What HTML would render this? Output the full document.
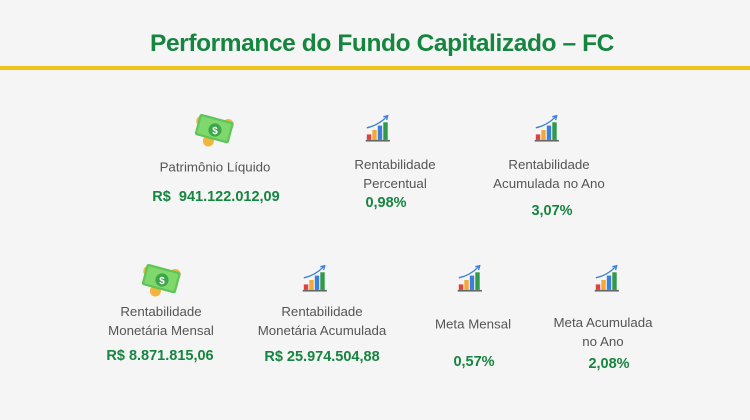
<!DOCTYPE html>
<html><head><meta charset="utf-8"><style>
body{margin:0;width:750px;height:420px;background:#f5f5f5;font-family:"Liberation Sans",sans-serif;position:relative;overflow:hidden}
.t{position:absolute;white-space:nowrap;transform:translate(-50%,-50%);font-size:13.3px;color:#555;text-align:center;line-height:19px}
.v{position:absolute;white-space:nowrap;transform:translate(-50%,-50%);font-size:14.5px;font-weight:bold;color:#15853f}
.i{position:absolute;transform:translate(-50%,-50%)}
</style></head><body>
<div class="t" style="left:382px;top:44px;font-size:24.5px;font-weight:bold;color:#15853f;letter-spacing:-0.4px;line-height:28px">Performance do Fundo Capitalizado – FC</div>
<div style="position:absolute;left:0;top:66px;width:750px;height:4px;background:#f2c318"></div>

<svg width="0" height="0" style="position:absolute"><defs>
<g id="m"><circle cx="-12" cy="-8" r="5" fill="#f0b63c"/><circle cx="-6" cy="10" r="5" fill="#f0b63c"/><circle cx="12" cy="-5" r="5" fill="#f0b63c"/>
<rect x="-17" y="-11" width="32" height="20" rx="2" fill="#5fc45a" transform="rotate(15)"/><rect x="-15" y="-9" width="28" height="16" rx="1" fill="#7fd86c" transform="rotate(15)"/><circle cx="0" cy="0" r="6" fill="#3ea64a"/><text x="0" y="3.5" font-size="9" font-weight="bold" fill="#fff" text-anchor="middle" font-family="Liberation Sans">$</text></g>
<g id="c"><rect x="-12" y="4" width="4" height="5" fill="#e04040"/><rect x="-7" y="0" width="4" height="9" fill="#f2a93b"/><rect x="-2" y="-4" width="4" height="13" fill="#3b7fd9"/><rect x="3" y="-7" width="4" height="16" fill="#2e9a4a"/><rect x="-13" y="9" width="22" height="1.5" fill="#666"/><path d="M-12,-2 Q-2,-4 6,-12" stroke="#3b7fd9" fill="none" stroke-width="1.2"/><path d="M3,-12 L7,-13 L6,-9" stroke="#3b7fd9" fill="none" stroke-width="1.2"/></g>
</defs></svg>

<svg class="i" style="left:215px;top:130px" width="44" height="40" viewBox="-20 -18 40 36"><use href="#m"/></svg>
<div class="t" style="left:215px;top:167px">Patrimônio Líquido</div>
<div class="v" style="left:216px;top:197px">R$&nbsp; 941.122.012,09</div>

<svg class="i" style="left:380px;top:130px" width="33" height="33" viewBox="-15 -15 30 30"><use href="#c"/></svg>
<div class="t" style="left:395px;top:173.5px">Rentabilidade<br>Percentual</div>
<div class="v" style="left:386px;top:203px">0,98%</div>

<svg class="i" style="left:549px;top:130px" width="33" height="33" viewBox="-15 -15 30 30"><use href="#c"/></svg>
<div class="t" style="left:549px;top:173.5px">Rentabilidade<br>Acumulada no Ano</div>
<div class="v" style="left:552px;top:211px">3,07%</div>

<svg class="i" style="left:162px;top:280px" width="44" height="40" viewBox="-20 -18 40 36"><use href="#m"/></svg>
<div class="t" style="left:161px;top:321px">Rentabilidade<br>Monetária Mensal</div>
<div class="v" style="left:160px;top:356px">R$ 8.871.815,06</div>

<svg class="i" style="left:317px;top:280px" width="33" height="33" viewBox="-15 -15 30 30"><use href="#c"/></svg>
<div class="t" style="left:322px;top:321px">Rentabilidade<br>Monetária Acumulada</div>
<div class="v" style="left:322px;top:357px">R$ 25.974.504,88</div>

<svg class="i" style="left:472px;top:280px" width="33" height="33" viewBox="-15 -15 30 30"><use href="#c"/></svg>
<div class="t" style="left:473px;top:324px">Meta Mensal</div>
<div class="v" style="left:474px;top:362px">0,57%</div>

<svg class="i" style="left:609px;top:280px" width="33" height="33" viewBox="-15 -15 30 30"><use href="#c"/></svg>
<div class="t" style="left:603px;top:332px">Meta Acumulada<br>no Ano</div>
<div class="v" style="left:609px;top:364px">2,08%</div>
</body></html>
